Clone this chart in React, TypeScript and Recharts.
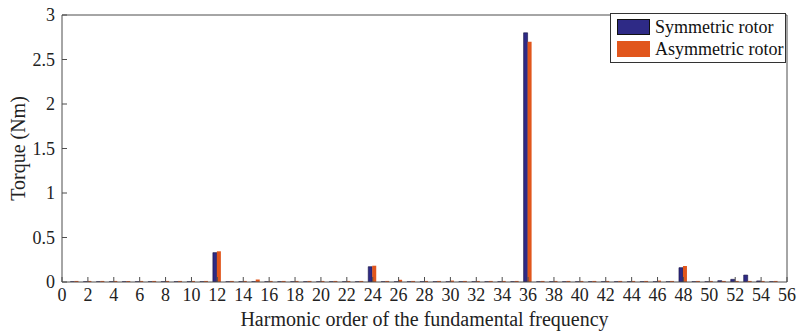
import React from 'react';
import { BarChart, Bar, XAxis, YAxis } from 'recharts';

const harmonics = [1,2,3,4,5,6,7,8,9,10,11,12,13,14,15,16,17,18,19,20,21,22,23,24,25,26,27,28,29,30,31,32,33,34,35,36,37,38,39,40,41,42,43,44,45,46,47,48,49,50,51,52,53,54,55];
const symmetric = [0.003,0.003,0.003,0.003,0.003,0.003,0.003,0.003,0.003,0.003,0.003,0.33,0.003,0.003,0.003,0.003,0.003,0.003,0.003,0.003,0.003,0.003,0.003,0.172,0.003,0.003,0.003,0.003,0.003,0.003,0.003,0.003,0.003,0.003,0.003,2.8,0.003,0.003,0.003,0.003,0.003,0.003,0.003,0.003,0.003,0.003,0.003,0.161,0.003,0.003,0.015,0.03,0.078,0.012,0.003];
const asymmetric = [0.012,0.012,0.012,0.012,0.012,0.012,0.012,0.012,0.012,0.012,0.012,0.345,0.012,0.012,0.028,0.012,0.012,0.012,0.012,0.012,0.012,0.012,0.012,0.183,0.012,0.025,0.012,0.012,0.012,0.016,0.012,0.012,0.012,0.012,0.012,2.7,0.012,0.012,0.012,0.012,0.012,0.012,0.012,0.012,0.012,0.016,0.012,0.18,0.012,0.012,0.012,0.012,0.012,0.012,0.012];
const xTicks = [0,2,4,6,8,10,12,14,16,18,20,22,24,26,28,30,32,34,36,38,40,42,44,46,48,50,52,54,56];
const yTicks = [0,0.5,1,1.5,2,2.5,3];
const seriesNames = ['Symmetric rotor', 'Asymmetric rotor'];
const seriesColors = ['#2E2A86', '#E1561C'];

const data = harmonics.map((h, i) => ({ h, sym: symmetric[i], asym: asymmetric[i] }));

const FONT = '"Liberation Serif", "Times New Roman", serif';
const AXIS = '#4d4d4d';

const LegendBox = () => (
  <div style={{ position: 'absolute', left: 610, top: 13, border: '1px solid #333', background: '#fff', padding: '2px 2px 2px 6px', fontFamily: FONT, fontSize: 18, color: '#111', lineHeight: '22px' }}>
    {seriesNames.map((n, i) => (
      <div key={n} style={{ display: 'flex', alignItems: 'center' }}>
        <span style={{ display: 'inline-block', width: 33, height: 16, background: seriesColors[i], border: i === 0 ? '1px solid #111' : '1px solid ' + seriesColors[i], boxSizing: 'border-box', marginRight: 5 }} />
        <span>{n}</span>
      </div>
    ))}
  </div>
);

export default function App() {
  return (
    <div style={{ position: 'absolute', left: 0, top: 0, width: 800, height: 332, background: '#fff' }}>
      <BarChart width={800} height={332} data={data} margin={{ top: 14, right: 12, bottom: 0, left: 0 }} barGap={0} barSize={4}>
        <XAxis
          dataKey="h"
          type="number"
          domain={[0, 56]}
          ticks={xTicks}
          interval={0}
          allowDataOverflow
          height={50}
          tickSize={-5}
          tickMargin={11}
          stroke={AXIS}
          tick={{ fill: '#222', fontFamily: FONT, fontSize: 18 }}
          label={{ value: 'Harmonic order of the fundamental frequency', position: 'insideBottom', offset: 6, fill: '#222', fontFamily: FONT, fontSize: 20 }}
        />
        <XAxis
          xAxisId="top"
          orientation="top"
          dataKey="h"
          type="number"
          domain={[0, 56]}
          ticks={xTicks}
          interval={0}
          allowDataOverflow
          height={1}
          tickSize={-5}
          stroke={AXIS}
          tick={false}
        />
        <YAxis
          type="number"
          domain={[0, 3]}
          ticks={yTicks}
          interval={0}
          allowDataOverflow
          width={62}
          tickSize={-5}
          tickMargin={12}
          stroke={AXIS}
          tick={{ fill: '#222', fontFamily: FONT, fontSize: 18 }}
          label={{ value: 'Torque (Nm)', angle: -90, position: 'insideLeft', offset: 18, fill: '#222', fontFamily: FONT, fontSize: 20, style: { textAnchor: 'middle' } }}
        />
        <YAxis
          yAxisId="right"
          orientation="right"
          type="number"
          domain={[0, 3]}
          ticks={yTicks}
          interval={0}
          allowDataOverflow
          width={1}
          tickSize={-5}
          stroke={AXIS}
          tick={false}
        />
        <Bar dataKey="sym" name={seriesNames[0]} fill={seriesColors[0]} stroke="#151040" strokeWidth={0.6} isAnimationActive={false} />
        <Bar dataKey="asym" name={seriesNames[1]} fill={seriesColors[1]} isAnimationActive={false} />
      </BarChart>
      <LegendBox />
    </div>
  );
}
